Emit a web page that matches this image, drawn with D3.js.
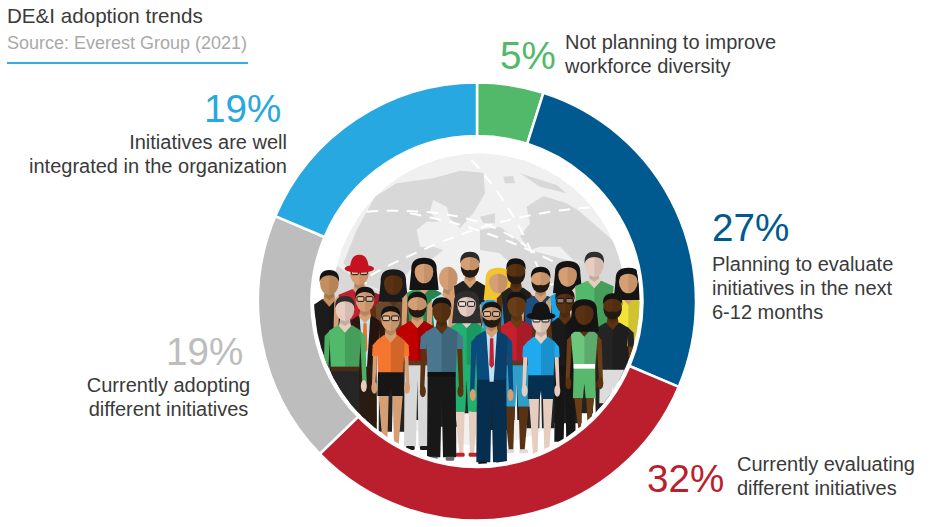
<!DOCTYPE html>
<html><head><meta charset="utf-8">
<script src="https://cdn.jsdelivr.net/npm/d3@7/dist/d3.min.js"></script>
<style>html,body{margin:0;padding:0;background:#fff}svg{display:block}text{font-family:"Liberation Sans",Arial,sans-serif}</style>
</head><body><svg id="c" width="932" height="527"></svg>
<script>
const categories = ["Not planning to improve workforce diversity","Planning to evaluate initiatives in the next 6-12 months","Currently evaluating different initiatives","Currently adopting different initiatives","Initiatives are well integrated in the organization"];
const values = [5,27,32,19,19];
const colors = ["#52b96a","#005a8f","#bb1f2e","#bdbdbd","#27a8e0"];
const labelLines = [["Not planning to improve","workforce diversity"],["Planning to evaluate","initiatives in the next","6-12 months"],["Currently evaluating","different initiatives"],["Currently adopting","different initiatives"],["Initiatives are well","integrated in the organization"]];
const titleText = "DE&I adoption trends";
const sourceText = "Source: Everest Group (2021)";

const svg = d3.select("#c");
const ink = "#3a3a3a";

/* ---------- title ---------- */
svg.append("text").attr("x",7).attr("y",23).attr("font-size",20.6).attr("fill",ink).text(titleText);
svg.append("text").attr("x",7).attr("y",49).attr("font-size",18).attr("fill","#a9a9a9").text(sourceText);
svg.append("line").attr("x1",7).attr("x2",248).attr("y1",63).attr("y2",63).attr("stroke","#35ace2").attr("stroke-width",2);

/* ---------- ring ---------- */
const cx=477, cy=301.5;
const pie=d3.pie().sort(null)(values);
const arc=d3.arc().innerRadius(165.5).outerRadius(219);
svg.append("g").attr("transform",`translate(${cx},${cy})`).selectAll("path").data(pie).join("path")
  .attr("d",arc).attr("fill",(d,i)=>colors[i]).attr("stroke","#fff").attr("stroke-width",2.5);

/* ---------- annotations ---------- */
const notes=[
 {px:500,py:69,lx:565,ly:[49,73],anchor:"start"},
 {px:712,py:241,lx:712,ly:[271,295,319],anchor:"start"},
 {px:647,py:492,lx:737,ly:[471,495],anchor:"start"},
 {px:166,py:365,lx:168.5,ly:[392,416],anchor:"middle"},
 {px:204,py:122,lx:287,ly:[149,173],anchor:"end"}];
notes.forEach((n,i)=>{
  svg.append("text").attr("x",n.px).attr("y",n.py).attr("font-size",38.6).attr("fill",colors[i]).text(values[i]+"%");
  labelLines[i].forEach((t,j)=>svg.append("text").attr("x",n.lx).attr("y",n.ly[j]).attr("text-anchor",n.anchor)
    .attr("font-size",20).attr("fill",ink).text(t));
});

/* ---------- illustration (coordinates in a 3x local space) ---------- */
svg.append("defs").append("clipPath").attr("id","clipIll").append("circle").attr("cx",531).attr("cy",454).attr("r",488);
svg.select("defs").append("clipPath").attr("id","clipGlobe").append("circle").attr("cx",537).attr("cy",448).attr("r",438);
const ill=svg.append("g").attr("transform","translate(300,150) scale(0.3333)");
const stage=ill.append("g").attr("clip-path","url(#clipIll)");
const globe=stage.append("g").attr("clip-path","url(#clipGlobe)");
globe.append("circle").attr("cx",537).attr("cy",448).attr("r",438).attr("fill","#f0f0f0");
const lands=[
 "M290,100 L400,85 L480,62 L550,68 L555,130 L520,190 L480,235 L450,205 L440,170 L400,150 L390,185 L415,215 L380,215 L350,240 L360,290 L400,290 L430,300 L380,340 L330,360 L300,400 L240,420 L190,400 L130,340 L170,240 L225,140 Z",
 "M100,340 L190,400 L230,420 L280,440 L250,560 L100,560 Z",
 "M680,170 L730,138 L800,160 L840,185 L960,290 L975,400 L960,480 L920,470 L880,420 L860,340 L820,330 L780,290 L720,290 L690,300 L660,260 L690,220 Z",
 "M540,240 L600,230 L690,300 L800,330 L860,340 L880,400 L860,470 L640,470 L620,400 L640,350 L600,310 L540,300 Z",
 "M540,200 L585,190 L585,220 L550,220 Z",
 "M660,70 L770,105 L800,130 L720,110 Z",
 "M610,80 L640,78 L645,100 L615,100 Z",
 "M260,290 L300,300 L280,330 Z"];
globe.selectAll("path.land").data(lands).join("path").attr("class","land").attr("d",d=>d).attr("fill","#d8d8d8");
["M200,185 Q520,165 680,290","M870,172 Q620,190 390,290 T200,400","M515,30 Q640,170 700,320 T780,350","M330,190 Q560,230 780,345"].forEach(d=>
  globe.append("path").attr("d",d).attr("fill","none").attr("stroke","#fff").attr("stroke-width",6).attr("stroke-dasharray","34 26"));

const S={light:"#e6cdbf",tan:"#d69f73",med:"#c48f5e",dark:"#6b3d16",deep:"#5a3212",black:"#4a2a10"};
function person(x,y,p){
  const g=stage.append("g").attr("transform",`translate(${x},${y})`);
  const sw=p.w||62, ww=p.waist||(sw-12), wy=p.wy||190, foot=p.foot||445, skin=p.skin, lower=p.lower;
  const limb=p.limb||skin;
  const hem=p.hem||foot;
  g.append("path").attr("d",`M${-ww},${wy} L${ww},${wy} L${ww+2},${hem} L4,${hem} L0,${wy+50} L-4,${hem} L${-ww-2},${hem} Z`).attr("fill",lower);
  if(hem<foot){
    g.append("path").attr("d",`M${-ww+2},${hem} L-6,${hem} L-10,${foot} L${-ww+14},${foot} Z M${ww-2},${hem} L6,${hem} L10,${foot} L${ww-14},${foot} Z`).attr("fill",limb);
  }
  if(p.shoe){
    g.append("rect").attr("x",-ww+4).attr("y",foot-2).attr("width",26).attr("height",12).attr("rx",4).attr("fill",p.shoe);
    g.append("rect").attr("x",ww-30).attr("y",foot-2).attr("width",26).attr("height",12).attr("rx",4).attr("fill",p.shoe);
  }
  const aw=p.arm||17, sleeve=p.sleeve;
  [-1,1].forEach(s=>{
    g.append("path").attr("d",`M${s*(sw-4)},62 L${s*(sw+aw-4)},80 L${s*(sw+aw)},${wy+40} L${s*(sw+4)},${wy+40} Z`).attr("fill",limb);
    g.append("ellipse").attr("cx",s*(sw+aw/2)).attr("cy",wy+50).attr("rx",9).attr("ry",18).attr("fill",p.hand||skin);
    if(sleeve) g.append("path").attr("d",`M${s*(sw-4)},60 L${s*(sw+aw-2)},78 L${s*(sw+aw)},${sleeve} L${s*(sw-2)},${sleeve} Z`).attr("fill",p.shirt);
  });
  g.append("path").attr("d",`M-22,48 L${-sw},64 L${-ww},${wy+4} L${ww},${wy+4} L${sw},64 L22,48 Z`).attr("fill",p.shirt);
  g.append("path").attr("d",`M0,48 L22,48 L${sw},64 L${ww},${wy+4} L0,${wy+4} Z`).attr("fill","#000").attr("opacity",.14);
  if(p.belt) g.append("rect").attr("x",-ww).attr("y",wy-8).attr("width",2*ww).attr("height",14).attr("fill",p.belt);
  if(p.suit){
    g.append("path").attr("d",`M-16,50 L16,50 L6,${wy+10} L-6,${wy+10} Z`).attr("fill",p.inner||"#bfe3f5");
    g.append("path").attr("d",`M-5,70 L5,70 L7,150 L0,160 L-7,150 Z`).attr("fill",p.tie||"#c4202e");
  }
  g.append("path").attr("d",`M-13,20 L13,20 L18,50 L0,70 L-18,50 Z`).attr("fill",skin);
  g.append("path").attr("d",`M-13,24 L13,24 L15,40 L0,50 L-15,40 Z`).attr("fill","#000").attr("opacity",.16);
  if(p.long) g.append("path").attr("d",`M-38,-5 Q-40,-42 0,-42 Q40,-42 38,-5 L44,55 L-44,55 Z`).attr("fill",p.hair);
  g.append("ellipse").attr("cx",0).attr("cy",0).attr("rx",28).attr("ry",35).attr("fill",skin);
  g.append("path").attr("d","M0,-35 A28,35 0 0 1 0,35 Z").attr("fill","#000").attr("opacity",.08);
  if(p.beard) g.append("path").attr("d","M-28,4 Q-26,38 0,38 Q26,38 28,4 Q14,20 0,14 Q-14,20 -28,4 Z").attr("fill","#241a14");
  if(p.hair&&!p.bald) g.append("path").attr("d","M-29,-4 Q-32,-40 0,-40 Q32,-40 29,-4 Q24,-24 0,-24 Q-24,-24 -29,-4 Z").attr("fill",p.hair);
  if(p.glasses){
    g.append("rect").attr("x",-24).attr("y",-10).attr("width",21).attr("height",14).attr("rx",3).attr("fill","#fff").attr("fill-opacity",.35).attr("stroke","#111").attr("stroke-width",3);
    g.append("rect").attr("x",3).attr("y",-10).attr("width",21).attr("height",14).attr("rx",3).attr("fill","#fff").attr("fill-opacity",.35).attr("stroke","#111").attr("stroke-width",3);
  }
  if(p.hat){
    g.append("ellipse").attr("cx",0).attr("cy",-14).attr("rx",44).attr("ry",12).attr("fill",p.hat);
    g.append("path").attr("d","M-28,-16 Q-26,-56 0,-56 Q26,-56 28,-16 Z").attr("fill",p.hat);
  }
}
const H="#141414";
// back row
person(88,400,{skin:S.med,hair:H,shirt:"#1c1c1c",lower:"#1c1c1c",w:46,sleeve:150,limb:"#1c1c1c"});
person(178,370,{skin:S.tan,hat:"#c6121f",glasses:1,shirt:"#c02030",lower:"#222",w:62});
person(280,400,{skin:S.deep,hair:"#1a1a1a",long:1,shirt:"#6a4a2c",lower:"#222",w:54});
person(372,365,{skin:S.tan,hair:H,long:1,shirt:"#2e9b58",lower:"#222",w:52});
person(445,385,{skin:S.tan,hair:S.tan,bald:1,shirt:"#bfe3f5",lower:"#222",w:50});
person(510,345,{skin:S.tan,hair:"#2a2a2a",beard:1,shirt:"#222",lower:"#222",w:48});
person(595,395,{skin:S.tan,hair:"#f2c52e",long:1,shirt:"#1f9fe6",lower:"#222",w:52});
person(648,365,{skin:S.deep,hair:H,beard:1,shirt:"#222",lower:"#222",w:44});
person(722,390,{skin:S.tan,hair:H,beard:1,shirt:"#1d4f80",lower:"#222",w:52});
person(803,375,{skin:S.tan,hair:H,long:1,shirt:"#1aa6ee",lower:"#222",w:52});
person(883,345,{skin:S.light,hair:"#2e2e2e",shirt:"#52b96a",lower:"#222",w:58});
person(985,395,{skin:S.tan,hair:H,long:1,shirt:"#f2e33a",lower:"#1c1c1c",w:40,arm:12});
// middle row
person(195,450,{skin:S.tan,hair:H,glasses:1,suit:1,tie:"#f07020",shirt:"#2c1810",lower:"#2a1a10",w:46,limb:"#2c1810"});
person(352,465,{skin:S.tan,hair:H,beard:1,shirt:"#c00000",lower:"#d8d8d8",wy:175,foot:425,shoe:"#1a1a1a",w:48,waist:38,limb:S.tan,sleeve:220,belt:"#5a3a20"});
person(500,465,{skin:S.light,hair:"#2e2e2e",long:1,glasses:1,shirt:"#20b070",lower:"#20b070",w:44,waist:36,wy:175,hem:320,foot:445,limb:S.light,sleeve:120,shoe:"#c4202e"});
person(650,465,{skin:S.dark,hair:H,shirt:"#c4202e",lower:"#2f9fca",w:48,waist:38,wy:175,hem:305,foot:435,limb:S.deep,shoe:"#dcdcdc",belt:"#5a3a20"});
person(795,455,{skin:S.deep,hair:H,glasses:1,shirt:"#1a1a1a",lower:"#161616",w:42,waist:30,limb:S.deep,foot:420});
person(938,470,{skin:S.deep,hair:H,beard:1,shirt:"#242424",lower:"#dcdcdc",w:48,waist:38,wy:185,foot:290,limb:S.dark,sleeve:120});
// front row
person(135,478,{skin:S.light,hair:"#2e2e2e",shirt:"#52b96a",limb:"#4caf62",lower:"#262626",w:48,waist:42,wy:180,foot:325,belt:"#4a2c16"});
person(272,508,{skin:S.tan,hair:H,glasses:1,shirt:"#f5762e",lower:"#161616",w:42,waist:38,wy:155,hem:230,foot:375,limb:S.tan,sleeve:110,arm:14});
person(425,482,{skin:S.deep,hair:H,shirt:"#4a7690",lower:"#181818",w:48,waist:42,wy:192,foot:440,limb:S.deep,sleeve:115,shoe:"#666",belt:"#111"});
person(575,495,{skin:S.tan,hair:H,beard:1,glasses:1,suit:1,shirt:"#0b4a7d",lower:"#062f4f",w:48,waist:44,wy:190,foot:442,limb:"#0b4a7d",shoe:"#111"});
person(723,512,{skin:S.light,hair:"#2e2e2e",hat:"#141414",glasses:1,shirt:"#1fa9ee",lower:"#06304f",w:42,waist:38,wy:160,hem:235,foot:400,limb:S.light,sleeve:110,arm:14});
person(853,490,{skin:S.deep,hair:H,long:1,shirt:"#6cc77e",lower:"#58b86c",w:40,waist:32,wy:160,hem:255,foot:345,limb:S.dark,arm:16,belt:"#fff"});
</script></body></html>
